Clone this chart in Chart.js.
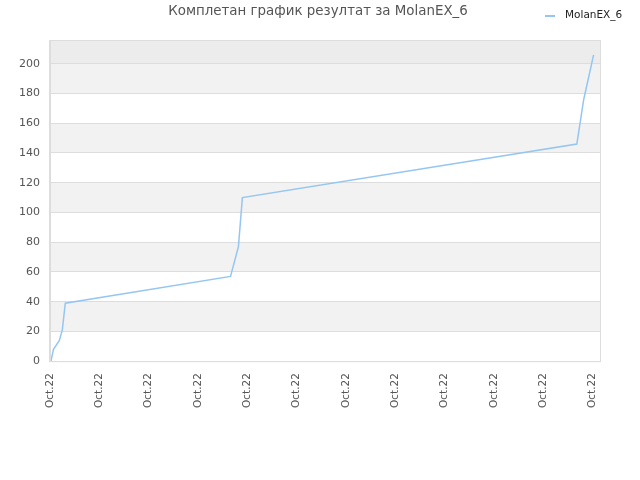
<!DOCTYPE html>
<html>
<head>
<meta charset="utf-8">
<script src="https://cdn.jsdelivr.net/npm/chart.js@4.4.0/dist/chart.umd.min.js"></script>
<style>
  html, body { margin: 0; padding: 0; background: #fff; }
  #wrap { width: 640px; height: 480px; }
</style>
</head>
<body>
<div id="wrap"><canvas id="chart" width="640" height="480"></canvas></div>
<script>
const chartTitle = "Комплетан график резултат за MolanEX_6";
const seriesName = "MolanEX_6";
// x positions in tick units (0 = first "Oct.22" tick)
const xValues = [0.02, 0.07, 0.19, 0.25, 0.31, 3.66, 3.82, 3.90, 10.68, 10.82, 11.02];
const yValues = [0, 8, 14, 21, 39, 57, 77, 110, 146, 176, 206];
const xTickLabels = ["Oct.22", "Oct.22", "Oct.22", "Oct.22", "Oct.22", "Oct.22",
  "Oct.22", "Oct.22", "Oct.22", "Oct.22", "Oct.22", "Oct.22"];

const points = xValues.map((x, i) => ({ x: x, y: yValues[i] }));
const lineColor = "#95c6f2";

// alternating bands, frame, title and legend
const decor = {
  id: "decor",
  beforeDraw(chart) {
    const { ctx, chartArea: a, scales: { y } } = chart;
    ctx.save();
    for (let v = 20; v < 200; v += 40) {
      const top = y.getPixelForValue(v + 20);
      const bot = y.getPixelForValue(v);
      ctx.fillStyle = "#f2f2f2";
      ctx.fillRect(a.left, top, a.right - a.left, bot - top);
    }
    ctx.fillStyle = "#ececec";
    ctx.fillRect(a.left, a.top, a.right - a.left, y.getPixelForValue(200) - a.top);
    ctx.restore();
  },
  afterDraw(chart) {
    const { ctx, chartArea: a } = chart;
    ctx.save();
    ctx.strokeStyle = "#dddddd";
    ctx.lineWidth = 1;
    ctx.strokeRect(a.left + 0.5, a.top + 0.5, a.right - a.left, a.bottom - a.top);
    ctx.font = "13.4px 'DejaVu Sans'";
    ctx.fillStyle = "#555";
    ctx.textAlign = "center";
    ctx.textBaseline = "middle";
    ctx.fillText(chartTitle, 318, 12);
    // legend
    ctx.strokeStyle = lineColor;
    ctx.lineWidth = 2;
    ctx.beginPath();
    ctx.moveTo(545, 16);
    ctx.lineTo(555, 16);
    ctx.stroke();
    ctx.font = "10.5px 'DejaVu Sans'";
    ctx.fillStyle = "#222";
    ctx.textAlign = "left";
    ctx.fillText(seriesName, 565, 15);
    ctx.restore();
  }
};

new Chart(document.querySelector("#chart"), {
  type: "line",
  data: {
    datasets: [{
      label: seriesName,
      data: points,
      borderColor: lineColor,
      backgroundColor: lineColor,
      borderWidth: 1.5,
      pointRadius: 0,
      tension: 0,
      fill: false
    }]
  },
  options: {
    responsive: false,
    animation: false,
    layout: { padding: { top: 40, left: 9, right: 40, bottom: 60 } },
    plugins: {
      title: { display: false },
      tooltip: { enabled: false },
      legend: { display: false }
    },
    scales: {
      x: {
        type: "linear",
        min: 0,
        max: 11.15,
        afterBuildTicks(scale) {
          scale.ticks = xTickLabels.map((_, i) => ({ value: i }));
        },
        grid: { display: false, drawTicks: false },
        border: { color: "#dddddd" },
        ticks: {
          color: "#555",
          font: { family: "DejaVu Sans", size: 10.5 },
          maxRotation: 90,
          minRotation: 90,
          autoSkip: false,
          padding: 12,
          callback: (v, i) => xTickLabels[i]
        }
      },
      y: {
        min: 0,
        max: 216,
        afterBuildTicks(scale) {
          const t = [];
          for (let v = 0; v <= 200; v += 20) t.push({ value: v });
          scale.ticks = t;
        },
        grid: { color: "#dddddd", drawTicks: false },
        border: { color: "#dddddd" },
        ticks: {
          color: "#555",
          font: { family: "DejaVu Sans", size: 11 },
          padding: 10
        }
      }
    }
  },
  plugins: [decor]
});
</script>
</body>
</html>
